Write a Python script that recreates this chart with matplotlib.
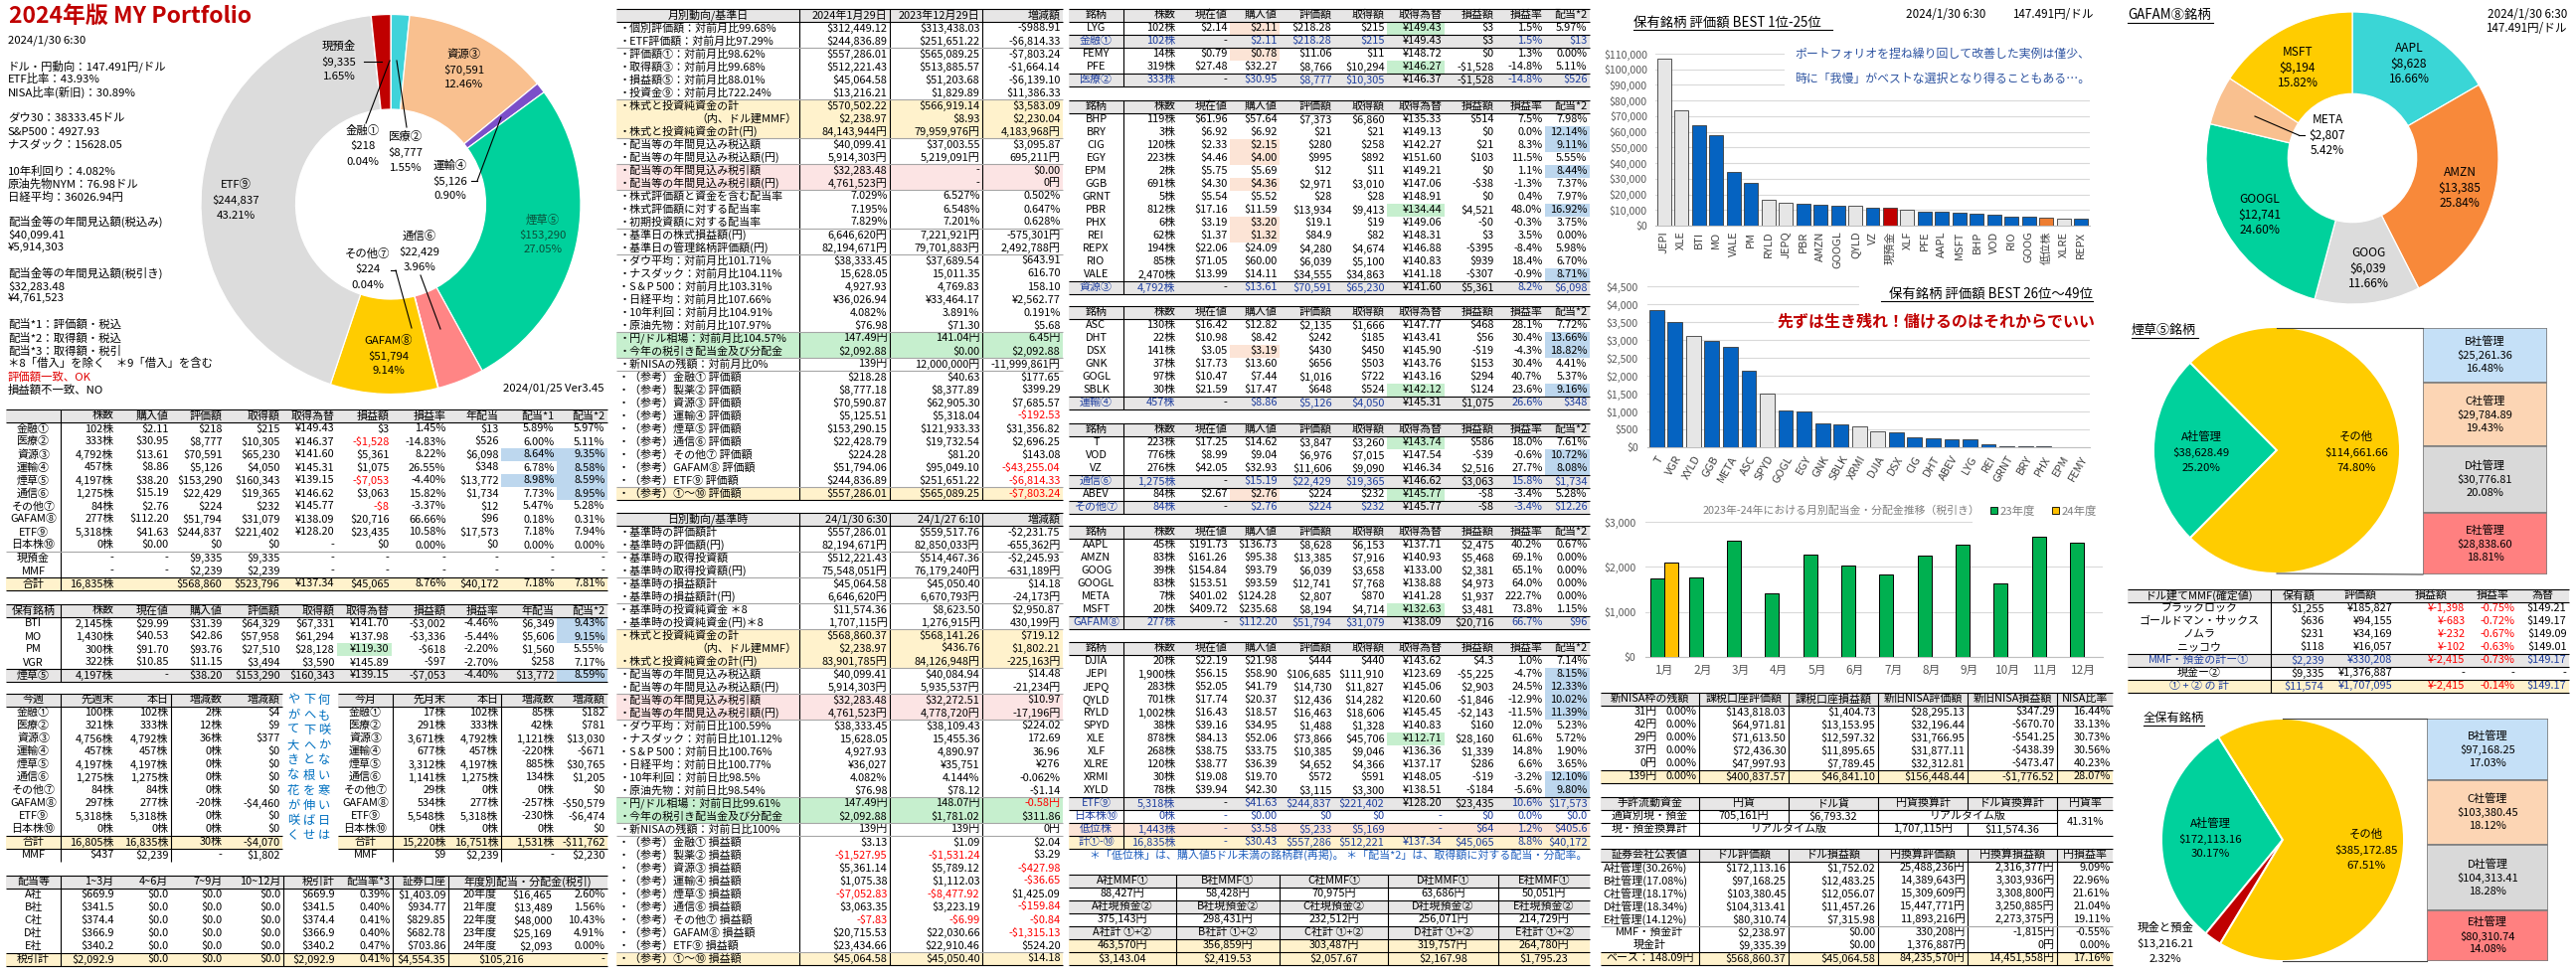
import numpy as np
import matplotlib
matplotlib.use('Agg')
import matplotlib.pyplot as plt
from matplotlib.patches import Rectangle

plt.rcParams['font.family'] = ['Noto Sans CJK JP', 'DejaVu Sans']
plt.rcParams['axes.unicode_minus'] = False

# ===================== DATA =====================
title_text = '2024年版 MY Portfolio'
info_lines = [
    (41, '2024/1/30 6:30', 'black'),
    (67, 'ドル・円動向：147.491円/ドル', 'black'), (80, 'ETF比率：43.93%', 'black'),
    (93, 'NISA比率(新旧)：30.89%', 'black'),
    (119, 'ダウ30：38333.45ドル', 'black'), (133, 'S&P500：4927.93', 'black'),
    (146, 'ナスダック：15628.05', 'black'),
    (172, '10年利回り：4.082%', 'black'), (185, '原油先物NYM：76.98ドル', 'black'),
    (198, '日経平均：36026.94円', 'black'),
    (223, '配当金等の年間見込額(税込み)', 'black'), (236, '$40,099.41', 'black'),
    (249, '¥5,914,303', 'black'),
    (275, '配当金等の年間見込額(税引き)', 'black'), (288, '$32,283.48', 'black'),
    (300, '¥4,761,523', 'black'),
    (326, '配当*1：評価額・税込', 'black'), (340, '配当*2：取得額・税込', 'black'),
    (353, '配当*3：取得額・税引', 'black'),
    (366, '＊8「借入」を除く　＊9「借入」を含む', 'black'),
    (379, '評価額一致、OK', '#E00000'), (392, '損益額不一致、NO', 'black'),
]

donut_labels = ['金融①', '医療②', '資源③', '運輸④', '煙草⑤', '通信⑥', 'その他⑦', 'GAFAM⑧', 'ETF⑨', '日本株⑩', '現預金']
donut_values = [218, 8777, 70591, 5126, 153290, 22429, 224, 51794, 244837, 0, 9335]
donut_colors = ['#4472C4', '#3FD3DA', '#F9C08F', '#7B4FC9', '#00D19C', '#FF8585', '#A9D18E',
                '#FFCC00', '#DCDCDC', '#FFFFFF', '#C00000']

T1 = [
    ['', '株数', '購入値', '評価額', '取得額', '取得為替', '損益額', '損益率', '年配当', '配当*1', '配当*2'],
    ['金融①', '102株', '$2.11', '$218', '$215', '¥149.43', '$3', '1.45%', '$13', '5.89%', '5.97%'],
    ['医療②', '333株', '$30.95', '$8,777', '$10,305', '¥146.37', '-$1,528', '-14.83%', '$526', '6.00%', '5.11%'],
    ['資源③', '4,792株', '$13.61', '$70,591', '$65,230', '¥141.60', '$5,361', '8.22%', '$6,098', '8.64%', '9.35%'],
    ['運輸④', '457株', '$8.86', '$5,126', '$4,050', '¥145.31', '$1,075', '26.55%', '$348', '6.78%', '8.58%'],
    ['煙草⑤', '4,197株', '$38.20', '$153,290', '$160,343', '¥139.15', '-$7,053', '-4.40%', '$13,772', '8.98%', '8.59%'],
    ['通信⑥', '1,275株', '$15.19', '$22,429', '$19,365', '¥146.62', '$3,063', '15.82%', '$1,734', '7.73%', '8.95%'],
    ['その他⑦', '84株', '$2.76', '$224', '$232', '¥145.77', '-$8', '-3.37%', '$12', '5.47%', '5.28%'],
    ['GAFAM⑧', '277株', '$112.20', '$51,794', '$31,079', '¥138.09', '$20,716', '66.66%', '$96', '0.18%', '0.31%'],
    ['ETF⑨', '5,318株', '$41.63', '$244,837', '$221,402', '¥128.20', '$23,435', '10.58%', '$17,573', '7.18%', '7.94%'],
    ['日本株⑩', '0株', '$0.00', '$0', '$0', '-', '$0', '0.00%', '$0', '0.00%', '0.00%'],
    ['現預金', '-', '-', '$9,335', '$9,335', '-', '-', '-', '-', '-', '-'],
    ['MMF', '-', '-', '$2,239', '$2,239', '-', '-', '-', '-', '-', '-'],
    ['合計', '16,835株', '', '$568,860', '$523,796', '¥137.34', '$45,065', '8.76%', '$40,172', '7.18%', '7.81%'],
]
T2 = [
    ['保有銘柄', '株数', '現在値', '購入値', '評価額', '取得額', '取得為替', '損益額', '損益率', '年配当', '配当*2'],
    ['BTI', '2,145株', '$29.99', '$31.39', '$64,329', '$67,331', '¥141.70', '-$3,002', '-4.46%', '$6,349', '9.43%'],
    ['MO', '1,430株', '$40.53', '$42.86', '$57,958', '$61,294', '¥137.98', '-$3,336', '-5.44%', '$5,606', '9.15%'],
    ['PM', '300株', '$91.70', '$93.76', '$27,510', '$28,128', '¥119.30', '-$618', '-2.20%', '$1,560', '5.55%'],
    ['VGR', '322株', '$10.85', '$11.15', '$3,494', '$3,590', '¥145.89', '-$97', '-2.70%', '$258', '7.17%'],
    ['煙草⑤', '4,197株', '-', '$38.20', '$153,290', '$160,343', '¥139.15', '-$7,053', '-4.40%', '$13,772', '8.59%'],
]
T3 = [
    ['今週', '先週末', '本日', '増減数', '増減額'],
    ['金融①', '100株', '102株', '2株', '$4'], ['医療②', '321株', '333株', '12株', '$9'],
    ['資源③', '4,756株', '4,792株', '36株', '$377'], ['運輸④', '457株', '457株', '0株', '$0'],
    ['煙草⑤', '4,197株', '4,197株', '0株', '$0'], ['通信⑥', '1,275株', '1,275株', '0株', '$0'],
    ['その他⑦', '84株', '84株', '0株', '$0'], ['GAFAM⑧', '297株', '277株', '-20株', '-$4,460'],
    ['ETF⑨', '5,318株', '5,318株', '0株', '$0'], ['日本株⑩', '0株', '0株', '0株', '$0'],
    ['合計', '16,805株', '16,835株', '30株', '-$4,070'], ['MMF', '$437', '$2,239', '-', '$1,802'],
]
T4 = [
    ['今月', '先月末', '本日', '増減数', '増減額'],
    ['金融①', '17株', '102株', '85株', '$182'], ['医療②', '291株', '333株', '42株', '$781'],
    ['資源③', '3,671株', '4,792株', '1,121株', '$13,030'], ['運輸④', '677株', '457株', '-220株', '-$671'],
    ['煙草⑤', '3,312株', '4,197株', '885株', '$30,765'], ['通信⑥', '1,141株', '1,275株', '134株', '$1,205'],
    ['その他⑦', '29株', '0株', '0株', '$0'], ['GAFAM⑧', '534株', '277株', '-257株', '-$50,579'],
    ['ETF⑨', '5,548株', '5,318株', '-230株', '-$6,474'], ['日本株⑩', '0株', '0株', '0株', '$0'],
    ['合計', '15,220株', '16,751株', '1,531株', '-$11,762'], ['MMF', '$9', '$2,239', '-', '$2,230'],
]
poem_cols = ['何も咲かない寒い日は', '下へ下へと根を伸ばせ', 'やがて大きな花が咲く']
T5 = [
    ['配当等', '1~3月', '4~6月', '7~9月', '10~12月', '税引計', '配当率*3', '証券口座', ('年度別配当・分配金(税引)', 3), None, None],
    ['A社', '$669.9', '$0.0', '$0.0', '$0.0', '$669.9', '0.39%', '$1,403.09', '20年度', '$16,465', '2.60%'],
    ['B社', '$341.5', '$0.0', '$0.0', '$0.0', '$341.5', '0.40%', '$934.77', '21年度', '$13,489', '1.56%'],
    ['C社', '$374.4', '$0.0', '$0.0', '$0.0', '$374.4', '0.41%', '$829.85', '22年度', '$48,000', '10.43%'],
    ['D社', '$366.9', '$0.0', '$0.0', '$0.0', '$366.9', '0.40%', '$682.78', '23年度', '$25,169', '4.91%'],
    ['E社', '$340.2', '$0.0', '$0.0', '$0.0', '$340.2', '0.47%', '$703.86', '24年度', '$2,093', '0.00%'],
    ['税引計', '$2,092.9', '$0.0', '$0.0', '$0.0', '$2,092.9', '0.41%', '$4,554.35', ('$105,216', 2), None, '-'],
]

MID1 = [
    ['月別動向/基準日', '2024年1月29日', '2023年12月29日', '増減額'],
    ['・個別評価額：対前月比99.68%', '$312,449.12', '$313,438.03', '-$988.91'],
    ['・ETF評価額：対前月比97.29%', '$244,836.89', '$251,651.22', '-$6,814.33'],
    ['・評価額①：対前月比98.62%', '$557,286.01', '$565,089.25', '-$7,803.24'],
    ['・取得額③：対前月比99.68%', '$512,221.43', '$513,885.57', '-$1,664.14'],
    ['・損益額⑤：対前月比88.01%', '$45,064.58', '$51,203.68', '-$6,139.10'],
    ['・投資金⑨：対前月比722.24%', '$13,216.21', '$1,829.89', '$11,386.33'],
    ['・株式と投資純資金の計', '$570,502.22', '$566,919.14', '$3,583.09'],
    ['（内、ドル建MMF）', '$2,238.97', '$8.93', '$2,230.04'],
    ['・株式と投資純資金の計(円)', '84,143,944円', '79,959,976円', '4,183,968円'],
    ['・配当等の年間見込み税込額', '$40,099.41', '$37,003.55', '$3,095.87'],
    ['・配当等の年間見込み税込額(円)', '5,914,303円', '5,219,091円', '695,211円'],
    ['・配当等の年間見込み税引額', '$32,283.48', '-', '$0.00'],
    ['・配当等の年間見込み税引額(円)', '4,761,523円', '-', '0円'],
    ['・株式評価額と資金を含む配当率', '7.029%', '6.527%', '0.502%'],
    ['・株式評価額に対する配当率', '7.195%', '6.548%', '0.647%'],
    ['・初期投資額に対する配当率', '7.829%', '7.201%', '0.628%'],
    ['・基準日の株式損益額(円)', '6,646,620円', '7,221,921円', '-575,301円'],
    ['・基準日の管理銘柄評価額(円)', '82,194,671円', '79,701,883円', '2,492,788円'],
    ['・ダウ平均：対前月比101.71%', '$38,333.45', '$37,689.54', '$643.91'],
    ['・ナスダック：対前月比104.11%', '15,628.05', '15,011.35', '616.70'],
    ['・S＆P 500：対前月比103.31%', '4,927.93', '4,769.83', '158.10'],
    ['・日経平均：対前月比107.66%', '¥36,026.94', '¥33,464.17', '¥2,562.77'],
    ['・10年利回：対前月比104.91%', '4.082%', '3.891%', '0.191%'],
    ['・原油先物：対前月比107.97%', '$76.98', '$71.30', '$5.68'],
    ['・円/ドル相場：対前月比104.57%', '147.49円', '141.04円', '6.45円'],
    ['・今年の税引き配当金及び分配金', '$2,092.88', '$0.00', '$2,092.88'],
    ['・新NISAの残額：対前月比0%', '139円', '12,000,000円', '-11,999,861円'],
    ['・（参考）金融① 評価額', '$218.28', '$40.63', '$177.65'],
    ['・（参考）製薬② 評価額', '$8,777.18', '$8,377.89', '$399.29'],
    ['・（参考）資源③ 評価額', '$70,590.87', '$62,905.30', '$7,685.57'],
    ['・（参考）運輸④ 評価額', '$5,125.51', '$5,318.04', '-$192.53'],
    ['・（参考）煙草⑤ 評価額', '$153,290.15', '$121,933.33', '$31,356.82'],
    ['・（参考）通信⑥ 評価額', '$22,428.79', '$19,732.54', '$2,696.25'],
    ['・（参考）その他⑦ 評価額', '$224.28', '$81.20', '$143.08'],
    ['・（参考）GAFAM⑧ 評価額', '$51,794.06', '$95,049.10', '-$43,255.04'],
    ['・（参考）ETF⑨ 評価額', '$244,836.89', '$251,651.22', '-$6,814.33'],
    ['・（参考）①～⑩ 評価額', '$557,286.01', '$565,089.25', '-$7,803.24'],
]
MID2 = [
    ['日別動向/基準時', '24/1/30 6:30', '24/1/27 6:10', '増減額'],
    ['・基準時の評価額計', '$557,286.01', '$559,517.76', '-$2,231.75'],
    ['・基準時の評価額(円)', '82,194,671円', '82,850,033円', '-655,362円'],
    ['・基準時の取得投資額', '$512,221.43', '$514,467.36', '-$2,245.93'],
    ['・基準時の取得投資額(円)', '75,548,051円', '76,179,240円', '-631,189円'],
    ['・基準時の損益額計', '$45,064.58', '$45,050.40', '$14.18'],
    ['・基準時の損益額計(円)', '6,646,620円', '6,670,793円', '-24,173円'],
    ['・基準時の投資純資金 ＊8', '$11,574.36', '$8,623.50', '$2,950.87'],
    ['・基準時の投資純資金(円)＊8', '1,707,115円', '1,276,915円', '430,199円'],
    ['・株式と投資純資金の計', '$568,860.37', '$568,141.26', '$719.12'],
    ['（内、ドル建MMF）', '$2,238.97', '$436.76', '$1,802.21'],
    ['・株式と投資純資金の計(円)', '83,901,785円', '84,126,948円', '-225,163円'],
    ['・配当等の年間見込み税込額', '$40,099.41', '$40,084.94', '$14.48'],
    ['・配当等の年間見込み税込額(円)', '5,914,303円', '5,935,537円', '-21,234円'],
    ['・配当等の年間見込み税引額', '$32,283.48', '$32,272.51', '$10.97'],
    ['・配当等の年間見込み税引額(円)', '4,761,523円', '4,778,720円', '-17,196円'],
    ['・ダウ平均：対前日比100.59%', '$38,333.45', '$38,109.43', '$224.02'],
    ['・ナスダック：対前日比101.12%', '15,628.05', '15,455.36', '172.69'],
    ['・S＆P 500：対前日比100.76%', '4,927.93', '4,890.97', '36.96'],
    ['・日経平均：対前日比100.77%', '¥36,027', '¥35,751', '¥276'],
    ['・10年利回：対前日比98.5%', '4.082%', '4.144%', '-0.062%'],
    ['・原油先物：対前日比98.54%', '$76.98', '$78.12', '-$1.14'],
    ['・円/ドル相場：対前日比99.61%', '147.49円', '148.07円', '-0.58円'],
    ['・今年の税引き配当金及び分配金', '$2,092.88', '$1,781.02', '$311.86'],
    ['・新NISAの残額：対前日比100%', '139円', '139円', '0円'],
    ['・（参考）金融① 損益額', '$3.13', '$1.09', '$2.04'],
    ['・（参考）製薬② 損益額', '-$1,527.95', '-$1,531.24', '$3.29'],
    ['・（参考）資源③ 損益額', '$5,361.14', '$5,789.12', '-$427.98'],
    ['・（参考）運輸④ 損益額', '$1,075.38', '$1,112.03', '-$36.65'],
    ['・（参考）煙草⑤ 損益額', '-$7,052.83', '-$8,477.92', '$1,425.09'],
    ['・（参考）通信⑥ 損益額', '$3,063.35', '$3,223.19', '-$159.84'],
    ['・（参考）その他⑦ 損益額', '-$7.83', '-$6.99', '-$0.84'],
    ['・（参考）GAFAM⑧ 損益額', '$20,715.53', '$22,030.66', '-$1,315.13'],
    ['・（参考）ETF⑨ 損益額', '$23,434.66', '$22,910.46', '$524.20'],
    ['・（参考）①～⑩ 損益額', '$45,064.58', '$45,050.40', '$14.18'],
]

STOCK_HEADER = ['銘柄', '株数', '現在値', '購入値', '評価額', '取得額', '取得為替', '損益額', '損益率', '配当*2']
SG_A = [
    ['LYG', '102株', '$2.14', '$2.11', '$218.28', '$215', '¥149.43', '$3', '1.5%', '5.97%'],
    ['金融①', '102株', '-', '$2.11', '$218.28', '$215', '¥149.43', '$3', '1.5%', '$13'],
    ['FEMY', '14株', '$0.79', '$0.78', '$11.06', '$11', '¥148.72', '$0', '1.3%', '0.00%'],
    ['PFE', '319株', '$27.48', '$32.27', '$8,766', '$10,294', '¥146.27', '-$1,528', '-14.8%', '5.11%'],
    ['医療②', '333株', '-', '$30.95', '$8,777', '$10,305', '¥146.37', '-$1,528', '-14.8%', '$526'],
]
SG_B = [
    ['BHP', '119株', '$61.96', '$57.64', '$7,373', '$6,860', '¥135.33', '$514', '7.5%', '7.98%'],
    ['BRY', '3株', '$6.92', '$6.92', '$21', '$21', '¥149.13', '$0', '0.0%', '12.14%'],
    ['CIG', '120株', '$2.33', '$2.15', '$280', '$258', '¥142.27', '$21', '8.3%', '9.11%'],
    ['EGY', '223株', '$4.46', '$4.00', '$995', '$892', '¥151.60', '$103', '11.5%', '5.55%'],
    ['EPM', '2株', '$5.75', '$5.69', '$12', '$11', '¥149.21', '$0', '1.1%', '8.44%'],
    ['GGB', '691株', '$4.30', '$4.36', '$2,971', '$3,010', '¥147.06', '-$38', '-1.3%', '7.37%'],
    ['GRNT', '5株', '$5.54', '$5.52', '$28', '$28', '¥148.91', '$0', '0.4%', '7.97%'],
    ['PBR', '812株', '$17.16', '$11.59', '$13,934', '$9,413', '¥134.44', '$4,521', '48.0%', '16.92%'],
    ['PHX', '6株', '$3.19', '$3.20', '$19.1', '$19', '¥149.06', '-$0', '-0.3%', '3.75%'],
    ['REI', '62株', '$1.37', '$1.32', '$84.9', '$82', '¥148.31', '$3', '3.5%', '0.00%'],
    ['REPX', '194株', '$22.06', '$24.09', '$4,280', '$4,674', '¥146.88', '-$395', '-8.4%', '5.98%'],
    ['RIO', '85株', '$71.05', '$60.00', '$6,039', '$5,100', '¥140.83', '$939', '18.4%', '6.70%'],
    ['VALE', '2,470株', '$13.99', '$14.11', '$34,555', '$34,863', '¥141.18', '-$307', '-0.9%', '8.71%'],
    ['資源③', '4,792株', '-', '$13.61', '$70,591', '$65,230', '¥141.60', '$5,361', '8.2%', '$6,098'],
]
SG_C = [
    ['ASC', '130株', '$16.42', '$12.82', '$2,135', '$1,666', '¥147.77', '$468', '28.1%', '7.72%'],
    ['DHT', '22株', '$10.98', '$8.42', '$242', '$185', '¥143.41', '$56', '30.4%', '13.66%'],
    ['DSX', '141株', '$3.05', '$3.19', '$430', '$450', '¥145.90', '-$19', '-4.3%', '18.82%'],
    ['GNK', '37株', '$17.73', '$13.60', '$656', '$503', '¥143.76', '$153', '30.4%', '4.41%'],
    ['GOGL', '97株', '$10.47', '$7.44', '$1,016', '$722', '¥143.16', '$294', '40.7%', '5.37%'],
    ['SBLK', '30株', '$21.59', '$17.47', '$648', '$524', '¥142.12', '$124', '23.6%', '9.16%'],
    ['運輸④', '457株', '-', '$8.86', '$5,126', '$4,050', '¥145.31', '$1,075', '26.6%', '$348'],
]
SG_D = [
    ['T', '223株', '$17.25', '$14.62', '$3,847', '$3,260', '¥143.74', '$586', '18.0%', '7.61%'],
    ['VOD', '776株', '$8.99', '$9.04', '$6,976', '$7,015', '¥147.54', '-$39', '-0.6%', '10.72%'],
    ['VZ', '276株', '$42.05', '$32.93', '$11,606', '$9,090', '¥146.34', '$2,516', '27.7%', '8.08%'],
    ['通信⑥', '1,275株', '-', '$15.19', '$22,429', '$19,365', '¥146.62', '$3,063', '15.8%', '$1,734'],
    ['ABEV', '84株', '$2.67', '$2.76', '$224', '$232', '¥145.77', '-$8', '-3.4%', '5.28%'],
    ['その他⑦', '84株', '-', '$2.76', '$224', '$232', '¥145.77', '-$8', '-3.4%', '$12.26'],
]
SG_E = [
    ['AAPL', '45株', '$191.73', '$136.73', '$8,628', '$6,153', '¥137.71', '$2,475', '40.2%', '0.67%'],
    ['AMZN', '83株', '$161.26', '$95.38', '$13,385', '$7,916', '¥140.93', '$5,468', '69.1%', '0.00%'],
    ['GOOG', '39株', '$154.84', '$93.79', '$6,039', '$3,658', '¥133.00', '$2,381', '65.1%', '0.00%'],
    ['GOOGL', '83株', '$153.51', '$93.59', '$12,741', '$7,768', '¥138.88', '$4,973', '64.0%', '0.00%'],
    ['META', '7株', '$401.02', '$124.28', '$2,807', '$870', '¥141.28', '$1,937', '222.7%', '0.00%'],
    ['MSFT', '20株', '$409.72', '$235.68', '$8,194', '$4,714', '¥132.63', '$3,481', '73.8%', '1.15%'],
    ['GAFAM⑧', '277株', '-', '$112.20', '$51,794', '$31,079', '¥138.09', '$20,716', '66.7%', '$96'],
]
SG_F = [
    ['DJIA', '20株', '$22.19', '$21.98', '$444', '$440', '¥143.62', '$4.3', '1.0%', '7.14%'],
    ['JEPI', '1,900株', '$56.15', '$58.90', '$106,685', '$111,910', '¥123.69', '-$5,225', '-4.7%', '8.15%'],
    ['JEPQ', '283株', '$52.05', '$41.79', '$14,730', '$11,827', '¥145.06', '$2,903', '24.5%', '12.33%'],
    ['QYLD', '701株', '$17.74', '$20.37', '$12,436', '$14,282', '¥120.60', '-$1,846', '-12.9%', '10.02%'],
    ['RYLD', '1,002株', '$16.43', '$18.57', '$16,463', '$18,606', '¥145.45', '-$2,143', '-11.5%', '11.39%'],
    ['SPYD', '38株', '$39.16', '$34.95', '$1,488', '$1,328', '¥140.83', '$160', '12.0%', '5.23%'],
    ['XLE', '878株', '$84.13', '$52.06', '$73,866', '$45,706', '¥112.71', '$28,160', '61.6%', '5.72%'],
    ['XLF', '268株', '$38.75', '$33.75', '$10,385', '$9,046', '¥136.36', '$1,339', '14.8%', '1.90%'],
    ['XLRE', '120株', '$38.77', '$36.39', '$4,652', '$4,366', '¥137.17', '$286', '6.6%', '3.65%'],
    ['XRMI', '30株', '$19.08', '$19.70', '$572', '$591', '¥148.05', '-$19', '-3.2%', '12.10%'],
    ['XYLD', '78株', '$39.94', '$42.30', '$3,115', '$3,300', '¥138.51', '-$184', '-5.6%', '9.80%'],
    ['ETF⑨', '5,318株', '-', '$41.63', '$244,837', '$221,402', '¥128.20', '$23,435', '10.6%', '$17,573'],
    ['日本株⑩', '0株', '-', '$0.00', '$0', '$0', '-', '$0', '0.0%', '$0.0'],
    ['低位株', '1,443株', '-', '$3.58', '$5,233', '$5,169', '-', '$64', '1.2%', '$405.6'],
    ['計①-⑩', '16,835株', '-', '$30.43', '$557,286', '$512,221', '¥137.34', '$45,065', '8.8%', '$40,172'],
]
low_price = {'LYG', 'FEMY', 'CIG', 'EGY', 'GGB', 'PHX', 'REI', 'DSX', 'ABEV'}
fx_hilite = {'LYG', 'PFE', 'PBR', 'SBLK', 'T', 'ABEV', 'MSFT', 'XLE'}
yield_hilite = {'BRY', 'CIG', 'EPM', 'PBR', 'VALE', 'DHT', 'DSX', 'SBLK', 'VOD', 'VZ',
                'JEPI', 'JEPQ', 'QYLD', 'RYLD', 'XRMI', 'XYLD'}
stock_note = '＊「低位株」は、購入値5ドル未満の銘柄群(再掲)。 ＊「配当*2」は、取得額に対する配当・分配率。'

MMF_CO = [
    ['A社MMF①', 'B社MMF①', 'C社MMF①', 'D社MMF①', 'E社MMF①'],
    ['88,427円', '58,428円', '70,975円', '63,686円', '50,051円'],
    ['A社現預金②', 'B社現預金②', 'C社現預金②', 'D社現預金②', 'E社現預金②'],
    ['375,143円', '298,431円', '232,512円', '256,071円', '214,729円'],
    ['A社計 ①+②', 'B社計 ①+②', 'C社計 ①+②', 'D社計 ①+②', 'E社計 ①+②'],
    ['463,570円', '356,859円', '303,487円', '319,757円', '264,780円'],
    ['$3,143.04', '$2,419.53', '$2,057.67', '$2,167.98', '$1,795.23'],
]

b1_names = ['JEPI', 'XLE', 'BTI', 'MO', 'VALE', 'PM', 'RYLD', 'JEPQ', 'PBR', 'AMZN', 'GOOGL', 'QYLD', 'VZ',
            '現預金', 'XLF', 'PFE', 'AAPL', 'MSFT', 'BHP', 'VOD', 'RIO', 'GOOG', '低位株', 'XLRE', 'REPX']
b1_vals = [106685, 73866, 64329, 57958, 34555, 27510, 16463, 14730, 13934, 13385, 12741, 12436, 11606,
           11574, 10385, 8766, 8628, 8194, 7373, 6976, 6039, 6039, 5233, 4652, 4280]
b1_kind = ['E', 'E', 'S', 'S', 'S', 'S', 'E', 'E', 'S', 'S', 'S', 'E', 'S',
           'C', 'E', 'S', 'S', 'S', 'S', 'S', 'S', 'S', 'L', 'E', 'S']
b2_names = ['T', 'VGR', 'XYLD', 'GGB', 'META', 'ASC', 'SPYD', 'GOGL', 'EGY', 'GNK', 'SBLK', 'XRMI',
            'DJIA', 'DSX', 'CIG', 'DHT', 'ABEV', 'LYG', 'REI', 'GRNT', 'BRY', 'PHX', 'EPM', 'FEMY']
b2_vals = [3847, 3494, 3115, 2971, 2807, 2135, 1488, 1016, 995, 656, 648, 572,
           444, 430, 280, 242, 224, 218, 85, 28, 21, 19, 12, 11]
b2_kind = ['S', 'S', 'E', 'S', 'S', 'S', 'E', 'S', 'S', 'S', 'S', 'E',
           'E', 'S', 'S', 'S', 'S', 'S', 'S', 'S', 'S', 'S', 'S', 'S']

months = ['1月', '2月', '3月', '4月', '5月', '6月', '7月', '8月', '9月', '10月', '11月', '12月']
div23 = [1735, 1757, 2574, 1404, 2265, 2022, 1824, 2243, 2485, 1625, 2662, 2529]
div24 = [2093, 0, 0, 0, 0, 0, 0, 0, 0, 0, 0, 0]

NISA = [
    [('新NISA枠の残額', 2), None, '課税口座評価額', '課税口座損益額', '新旧NISA評価額', '新旧NISA損益額', 'NISA比率'],
    ['31円', '0.00%', '$143,818.03', '$1,404.73', '$28,295.13', '$347.29', '16.44%'],
    ['42円', '0.00%', '$64,971.81', '$13,153.95', '$32,196.44', '-$670.70', '33.13%'],
    ['29円', '0.00%', '$71,613.50', '$12,597.32', '$31,766.95', '-$541.25', '30.73%'],
    ['37円', '0.00%', '$72,436.30', '$11,895.65', '$31,877.11', '-$438.39', '30.56%'],
    ['0円', '0.00%', '$47,997.93', '$7,789.45', '$32,312.81', '-$473.47', '40.23%'],
    ['139円', '0.00%', '$400,837.57', '$46,841.10', '$156,448.44', '-$1,776.52', '28.07%'],
]
CASH = [
    ['手許流動資金', '円貨', 'ドル貨', '円貨換算計', 'ドル貨換算計', '円貨率'],
    ['通貨別現・預金', '705,161円', '$6,793.32', ('リアルタイム版', 2), None, ''],
    ['現・預金換算計', ('リアルタイム版', 2), None, '1,707,115円', '$11,574.36', ''],
]
cash_rate = '41.31%'
BROKER = [
    ['証券会社公表値', 'ドル評価額', 'ドル損益額', '円換算評価額', '円換算損益額', '円損益率'],
    ['A社管理(30.26%)', '$172,113.16', '$1,752.02', '25,488,236円', '2,316,377円', '9.09%'],
    ['B社管理(17.08%)', '$97,168.25', '$12,483.25', '14,389,643円', '3,303,936円', '22.96%'],
    ['C社管理(18.17%)', '$103,380.45', '$12,056.07', '15,309,609円', '3,308,800円', '21.61%'],
    ['D社管理(18.34%)', '$104,313.41', '$11,457.26', '15,447,771円', '3,250,885円', '21.04%'],
    ['E社管理(14.12%)', '$80,310.74', '$7,315.98', '11,893,216円', '2,273,375円', '19.11%'],
    ['MMF・預金計', '$2,238.97', '$0.00', '330,208円', '-1,815円', '-0.55%'],
    ['現金計', '$9,335.39', '$0.00', '1,376,887円', '0円', '0.00%'],
    ['ベース：148.09円', '$568,860.37', '$45,064.58', '84,235,570円', '14,451,558円', '17.16%'],
]

gafam_labels = ['AAPL', 'AMZN', 'GOOG', 'GOOGL', 'META', 'MSFT']
gafam_values = [8628, 13385, 6039, 12741, 2807, 8194]
gafam_colors = ['#3AD6D6', '#F8893A', '#DCDCDC', '#00D19C', '#F9C08F', '#FFCC00']

tob_pie_labels = ['A社管理', 'その他']
tob_pie_values = [38628.49, 114661.66]
tob_bar_labels = ['B社管理', 'C社管理', 'D社管理', 'E社管理']
tob_bar_values = [25261.36, 29784.89, 30776.81, 28838.60]

all_pie_labels = ['A社管理', '現金と預金', 'その他']
all_pie_values = [172113.16, 13216.21, 385172.85]
all_bar_labels = ['B社管理', 'C社管理', 'D社管理', 'E社管理']
all_bar_values = [97168.25, 103380.45, 104313.41, 80310.74]

MMF_R = [
    ['ドル建てMMF(確定値)', '保有額', '評価額', '損益額', '損益率', '為替'],
    ['ブラックロック', '$1,255', '¥185,827', '¥-1,398', '-0.75%', '$149.21'],
    ['ゴールドマン・サックス', '$636', '¥94,155', '¥-683', '-0.72%', '$149.17'],
    ['ノムラ', '$231', '¥34,169', '¥-232', '-0.67%', '$149.09'],
    ['ニッコウ', '$118', '¥16,057', '¥-102', '-0.63%', '$149.01'],
    ['MMF・預金の計ー①', '$2,239', '¥330,208', '¥-2,415', '-0.73%', '$149.17'],
    ['現金ー②', '$9,335', '¥1,376,887', '-', '-', '-'],
    ['① + ② の 計', '$11,574', '¥1,707,095', '¥-2,415', '-0.14%', '$149.17'],
]

# ===================== STYLE / HELPERS =====================
W, H = 2591, 981
RED = '#FF0000'
BLUE = '#1F3F9F'
HB = '#BDD7EE'
GR = '#C6EFCE'
PE = '#FCE4D6'
FILL = {'h': '#E7E6E6', 's': '#E7E6E6', 'sb': '#E7E6E6', 'y': '#FFF2CC', 'yb': '#FFF2CC',
        'p': '#FCE4E4', 'g': '#C6EFCE', 'ob': '#FCE4D6'}
TXTC = {'sb': BLUE, 'yb': BLUE, 'ob': BLUE, 'wb': BLUE}
PAD = 2.5
FS = 7.9

fig = plt.figure(figsize=(W / 100, H / 100), dpi=100)
bg = fig.add_axes([0, 0, 1, 1], label='bg')
bg.set_xlim(0, W)
bg.set_ylim(H, 0)
bg.axis('off')


def px_axes(x0, y0, x1, y1, label=None):
    return fig.add_axes([x0 / W, 1 - y1 / H, (x1 - x0) / W, (y1 - y0) / H], label=label or f'{x0}-{y0}')


def hl(ax, x0, x1, y, color='black', lw=0.8):
    ax.plot([x0, x1], [y, y], color=color, lw=lw, zorder=4, solid_capstyle='butt')


def vline(ax, x, y0, y1, color='black', lw=0.8):
    ax.plot([x, x], [y0, y1], color=color, lw=lw, zorder=4, solid_capstyle='butt')


def table(bounds, y0, rows, styles, align, rh=13, fs=FS, bgc=None, fgc=None, hal=None,
          vl=(), black=(), gray=(), hdr_align=None):
    bgc = bgc or {}
    fgc = fgc or {}
    hal = hal or {}
    x0, x1 = bounds[0], bounds[-1]
    for r, row in enumerate(rows):
        st = styles[r]
        yt = y0 + r * rh
        yc = yt + rh / 2
        if st in FILL:
            bg.add_patch(Rectangle((x0, yt), x1 - x0, rh, fc=FILL[st], ec='none', zorder=1))
        for c in range(len(row)):
            if (r, c) in bgc:
                bg.add_patch(Rectangle((bounds[c], yt), bounds[c + 1] - bounds[c], rh,
                                       fc=bgc[(r, c)], ec='none', zorder=1.5))
        for c, cell in enumerate(row):
            if cell is None or cell == '':
                continue
            span = 1
            if isinstance(cell, tuple):
                cell, span = cell
            a = hal.get((r, c))
            if a is None:
                if span > 1:
                    a = 'c'
                elif st == 'h' and hdr_align is not None:
                    a = hdr_align[c]
                else:
                    a = align[c]
            xl, xr = bounds[c], bounds[c + span]
            if a == 'r':
                x, ha = xr - PAD, 'right'
            elif a == 'l':
                x, ha = xl + PAD, 'left'
            else:
                x, ha = (xl + xr) / 2, 'center'
            color = fgc.get((r, c), TXTC.get(st, 'black'))
            bg.text(x, yc, cell, ha=ha, va='center', fontsize=fs, color=color, zorder=3)
    ytop, ybot = y0, y0 + len(rows) * rh
    for v in vl:
        if isinstance(v, tuple):
            i, r0, r1 = v
            vline(bg, bounds[i], y0 + r0 * rh, y0 + r1 * rh)
        else:
            vline(bg, bounds[v], ytop, ybot)
    for i in gray:
        hl(bg, x0, x1, y0 + i * rh, color='#A6A6A6')
    for i in black:
        hl(bg, x0, x1, y0 + i * rh)


def pct(v, tot):
    return f'{v / tot * 100:.2f}%'


# ===================== LEFT: title + info =====================
bg.text(9, 16, title_text, fontsize=16.5, fontweight='bold', color='#C00000', ha='left', va='center')
for y, s, c in info_lines:
    bg.text(8, y, s, fontsize=8.2, color=c, ha='left', va='center')
bg.text(608, 391, '2024/01/25 Ver3.45', fontsize=8.2, ha='right', va='center')

# ----- table 1 -----
b1 = [6, 61, 117, 172, 226, 284, 339, 394, 451, 504, 560, 611]
al1 = ['c'] + ['r'] * 10
st1 = ['h'] + ['n'] * 12 + ['y']
table(b1, 412, T1, st1, al1,
      bgc={(3, 9): HB, (3, 10): HB, (4, 10): HB, (5, 9): HB, (5, 10): HB, (6, 10): HB},
      fgc={(2, 6): RED, (5, 6): RED, (7, 6): RED},
      vl=[1], black=[0, 1, 13, 14], gray=[11])
# ----- table 2 -----
table(b1, 608, T2, ['h', 'n', 'n', 'n', 'n', 's'], al1,
      bgc={(1, 10): HB, (2, 10): HB, (5, 10): HB, (3, 6): GR},
      vl=[1], black=[0, 1, 5, 6])
# ----- table 3 / 4 -----
st34 = ['h'] + ['n'] * 10 + ['y', 'n']
table([6, 61, 117, 172, 226, 284], 697.5, T3, st34, ['c', 'r', 'r', 'r', 'r'],
      vl=[1, 3], black=[0, 1, 11, 12])
table([340, 395, 451, 504, 560, 611], 697.5, T4, st34, ['c', 'r', 'r', 'r', 'r'],
      vl=[1, 3], black=[0, 1, 11, 12])
# poem (vertical text)
for xcol, line in zip([326, 311, 295], poem_cols):
    for k, ch in enumerate(line):
        bg.text(xcol, 704 + k * 15.2, ch, fontsize=8.8, color='#0070C0', ha='center', va='center')
# ----- table 5 -----
b5 = [6, 61, 117, 172, 226, 285, 339, 395, 451, 515, 558, 611]
table(b5, 880.5, T5, ['h', 'n', 'n', 'n', 'n', 'n', 'y'],
      ['c', 'r', 'r', 'r', 'r', 'r', 'r', 'r', 'c', 'r', 'r'],
      vl=[1, 5, 7, 8], black=[0, 1, 6, 7])

# ===================== MIDDLE tables =====================
bm = [620, 804, 895, 988, 1069]
st_m1 = ['h'] + ['n'] * 6 + ['y'] * 3 + ['n'] * 2 + ['p'] * 2 + ['n'] * 11 + ['g'] * 2 + ['n'] * 10 + ['y']
red_m1 = {(31, 3): RED, (35, 3): RED, (36, 3): RED, (37, 3): RED}
table(bm, 9, MID1, st_m1, ['l', 'r', 'r', 'r'], fgc=red_m1, hal={(8, 0): 'r'},
      hdr_align=['c', 'r', 'r', 'r'], vl=[1, 2, 3], black=[0, 1, 38],
      gray=[3, 7, 10, 12, 14, 17, 19, 25, 27, 28, 37])
st_m2 = ['h'] + ['n'] * 8 + ['y'] * 3 + ['n'] * 2 + ['p'] * 2 + ['n'] * 6 + ['g'] * 2 + ['n'] * 10 + ['y']
red_m2 = {(22, 3): RED, (26, 1): RED, (26, 2): RED, (27, 3): RED, (28, 3): RED, (29, 1): RED,
          (29, 2): RED, (30, 3): RED, (31, 1): RED, (31, 2): RED, (31, 3): RED, (32, 3): RED}
table(bm, 516, MID2, st_m2, ['l', 'r', 'r', 'r'], fgc=red_m2, hal={(10, 0): 'r'},
      hdr_align=['c', 'r', 'r', 'r'], vl=[1, 2, 3], black=[0, 1, 35],
      gray=[3, 5, 7, 9, 12, 14, 16, 22, 24, 25, 34])

# ===================== STOCK tables =====================
bs = [1075, 1130, 1185, 1237, 1287, 1342, 1395, 1453, 1505, 1554, 1599]
SUBS = {'金融①', '医療②', '資源③', '運輸④', '煙草⑤', '通信⑥', 'その他⑦', 'GAFAM⑧', 'ETF⑨'}


def stock_group(y0, body):
    rows = [STOCK_HEADER] + body
    styles = ['h']
    bgc, fgc = {}, {}
    black = [0, 1]
    for i, row in enumerate(body, start=1):
        nm = row[0]
        if nm in SUBS:
            styles.append('sb')
            black += [i, i + 1]
            for c in (2, 6, 7):
                fgc[(i, c)] = 'black'
        elif nm == '日本株⑩':
            styles.append('wb')
            black += [i + 1]
        elif nm == '低位株':
            styles.append('ob')
            black += [i + 1]
        elif nm.startswith('計'):
            styles.append('yb')
            black += [i + 1]
        else:
            styles.append('n')
            if nm in low_price:
                bgc[(i, 3)] = PE
            if nm in fx_hilite:
                bgc[(i, 6)] = GR
            if nm in yield_hilite:
                bgc[(i, 9)] = HB
    table(bs, y0, rows, styles, ['c'] + ['r'] * 9, bgc=bgc, fgc=fgc, vl=[1], black=black)


stock_group(8.5, SG_A)
stock_group(100.5, SG_B)
stock_group(307.5, SG_C)
stock_group(425.5, SG_D)
stock_group(528.5, SG_E)
stock_group(645.5, SG_F)
bg.text(1597, 860, stock_note, fontsize=FS, color='#1F5FBF', ha='right', va='center')
table([1075, 1183, 1287, 1396, 1507, 1599], 879.5, MMF_CO, ['h', 'n', 'h', 'n', 'h', 'y', 'y'],
      ['c'] * 5, vl=[1, 2, 3, 4], black=list(range(8)))

# ===================== NISA / cash / broker tables =====================
bn = [1610, 1669, 1709, 1799, 1889, 1979, 2069, 2125]
table(bn, 696.5, NISA, ['h', 'n', 'n', 'n', 'n', 'n', 'y'], ['r'] * 7,
      hdr_align=['c'] * 7, vl=[2, 3, 4, 5, 6], black=[0, 1, 6, 7])
bc = [1610, 1709, 1799, 1889, 1979, 2069, 2125]
table(bc, 801.5, CASH, ['h', 'n', 'n'], ['c'] * 6,
      vl=[1, (2, 0, 2), 3, (4, 0, 1), (4, 2, 3), 5], black=[0, 1, 3])
hl(bg, 1610, 2069, 801.5 + 26)
bg.text((2069 + 2125) / 2, 801.5 + 26, cash_rate, fontsize=FS, ha='center', va='center')
table(bc, 853.5, BROKER, ['h'] + ['n'] * 7 + ['y'], ['l', 'r', 'r', 'r', 'r', 'r'],
      hdr_align=['c'] * 6, hal={(6, 0): 'c', (7, 0): 'c', (8, 0): 'c'},
      vl=[1, 2, 3, 4, 5], black=[0, 1, 8, 9], gray=[6])

# ===================== RIGHT MMF table =====================
br = [2140, 2284, 2340, 2409, 2482, 2532, 2584]
red_r = {}
for r in (1, 2, 3, 4, 5, 7):
    red_r[(r, 3)] = RED
    red_r[(r, 4)] = RED
table(br, 592.5, MMF_R, ['h', 'n', 'n', 'n', 'n', 'sb', 'n', 'yb'], ['c', 'r', 'r', 'r', 'r', 'r'],
      hdr_align=['c'] * 6, fgc=red_r, vl=[1], black=[0, 1, 5, 6, 7, 8])

# ===================== MAIN DONUT =====================
cx, cy, R = 393, 205.5, 191
axd = px_axes(cx - R - 2, cy - R - 2, cx + R + 2, cy + R + 2, 'donut')
axd.pie(donut_values, colors=donut_colors, startangle=90, counterclock=False, radius=1,
        wedgeprops=dict(width=0.5, edgecolor='white', linewidth=0.9))
lim = (R + 2) / R
axd.set_xlim(-lim, lim)
axd.set_ylim(-lim, lim)
axd.set_aspect('auto')

# ===================== BAR CHART 1 =====================
KCOL = {'S': '#0563C1', 'E': '#E6E6E6', 'C': '#C00000', 'L': '#ED7D31'}
ax1 = px_axes(1665, 54, 2102, 227, 'bar1')
x1 = np.arange(len(b1_names))
ax1.bar(x1, b1_vals, width=0.8, color=[KCOL[k] for k in b1_kind], edgecolor='#3A3A3A', linewidth=0.6, zorder=3)
ax1.set_xlim(-0.5, len(b1_names) - 0.5)
ax1.set_ylim(0, 110000)
ax1.set_yticks(np.arange(0, 110001, 10000))
ax1.set_yticklabels([f'${v:,}' for v in range(0, 110001, 10000)])
ax1.set_xticks(x1)
ax1.set_xticklabels(b1_names, rotation=90)

ax2 = px_axes(1657, 288, 2102, 450, 'bar2')
x2 = np.arange(len(b2_names))
ax2.bar(x2, b2_vals, width=0.8, color=[KCOL[k] for k in b2_kind], edgecolor='#3A3A3A', linewidth=0.6, zorder=3)
ax2.set_xlim(-0.5, len(b2_names) - 0.5)
ax2.set_ylim(0, 4500)
ax2.set_yticks(np.arange(0, 4501, 500))
ax2.set_yticklabels([f'${v:,}' for v in range(0, 4501, 500)])
ax2.set_xticks(x2)
ax2.set_xticklabels(b2_names, rotation=60, ha='right', rotation_mode='anchor')

ax3 = px_axes(1655, 525, 2115, 661, 'bar3')
x3 = np.arange(12)
bw = 0.36
ax3.bar(x3 - bw / 2, div23, width=bw, color='#00B050', edgecolor='black', linewidth=0.7, zorder=3)
ax3.bar(x3 + bw / 2, div24, width=bw, color='#FFC000', edgecolor='black', linewidth=0.7, zorder=3)
ax3.set_xlim(-0.5, 11.5)
ax3.set_ylim(0, 3000)
ax3.set_yticks([0, 1000, 2000, 3000])
ax3.set_yticklabels([f'${v:,}' for v in [0, 1000, 2000, 3000]])
ax3.set_xticks(x3)
ax3.set_xticklabels(months)

for ax, ypad, xpad in ((ax1, 5.8, 4), (ax2, 6.5, 5), (ax3, 7.0, 5)):
    ax.patch.set_alpha(0)
    ax.yaxis.grid(True, color='#D9D9D9', lw=0.8)
    ax.set_axisbelow(True)
    for s in ('top', 'right', 'left'):
        ax.spines[s].set_visible(False)
    ax.spines['bottom'].set_color('#BFBFBF')
    ax.tick_params(axis='y', length=0, labelsize=7.6, labelcolor='#595959', pad=ypad)
    ax.tick_params(axis='x', length=0, labelsize=8, labelcolor='#404040', pad=xpad)
ax3.tick_params(axis='x', labelsize=8.5, labelcolor='#595959', pad=5)

# ===================== GAFAM DONUT =====================
gx, gy, gR = 2366, 159, 147
axg = px_axes(gx - gR - 2, gy - gR - 2, gx + gR + 2, gy + gR + 2, 'gafam')
axg.pie(gafam_values, colors=gafam_colors, startangle=90, counterclock=False, radius=1,
        wedgeprops=dict(width=0.56, edgecolor='white', linewidth=0.9))
lg = (gR + 2) / gR
axg.set_xlim(-lg, lg)
axg.set_ylim(-lg, lg)
axg.set_aspect('auto')


# ===================== PIE OF BAR =====================
def pie_of_bar(pcx, pcy, pr, pvals, pcols, bbox, bvals, blabels, bcols, start):
    axp = px_axes(pcx - pr - 2, pcy - pr - 2, pcx + pr + 2, pcy + pr + 2, f'pie{pcx}{pcy}')
    axp.pie(pvals, colors=pcols, startangle=start, counterclock=True, radius=1,
            wedgeprops=dict(edgecolor='white', linewidth=1.4))
    lp = (pr + 2) / pr
    axp.set_xlim(-lp, lp)
    axp.set_ylim(-lp, lp)
    axp.set_aspect('auto')
    x0, y0, x1, y1 = bbox
    axb = px_axes(x0, y0, x1, y1, f'bar{x0}{y0}')
    tot = sum(bvals)
    grand = sum(pvals)
    bottom = tot
    for v, lab, col in zip(bvals, blabels, bcols):
        bottom -= v
        axb.bar(0, v, bottom=bottom, width=1.0, color=col, edgecolor='#7F7F7F', linewidth=1.2)
        axb.text(0, bottom + v / 2, f'{lab}\n${v:,.2f}\n{pct(v, grand)}', ha='center', va='center',
                 fontsize=8, linespacing=1.35)
    axb.set_xlim(-0.5, 0.5)
    axb.set_ylim(0, tot)
    axb.axis('off')
    return axp


pie_of_bar(2290, 453, 124, tob_pie_values, ['#00D19C', '#FFCC00'], (2437, 330, 2562, 578),
           tob_bar_values, tob_bar_labels, ['#C5E0F7', '#FCD5B4', '#D9D9D9', '#FF8080'],
           180 - 180 * tob_pie_values[0] / sum(tob_pie_values))
pie_of_bar(2296, 845, 122, all_pie_values, ['#00D19C', '#C00000', '#FFCC00'], (2441, 723, 2563, 967),
           all_bar_values, all_bar_labels, ['#C5E0F7', '#FCD5B4', '#D9D9D9', '#FF8080'], 122)

# ===================== FOREGROUND overlay =====================
fg = fig.add_axes([0, 0, 1, 1], label='fg')
fg.set_xlim(0, W)
fg.set_ylim(H, 0)
fg.axis('off')
fg.patch.set_alpha(0)


def lab3(x, y, lines, fs=8.2, color='black', dy=15.5):
    for k, s in enumerate(lines):
        fg.text(x, y + (k - 1) * dy, s, ha='center', va='center', fontsize=fs, color=color)


dtot = sum(donut_values)
dpos = {'現預金': (341, 62), '資源③': (467, 70), '金融①': (365, 147), '医療②': (408, 153),
        '運輸④': (453, 182), 'ETF⑨': (237, 201), '煙草⑤': (546, 236), '通信⑥': (422, 253),
        'その他⑦': (370, 271), 'GAFAM⑧': (391, 358)}
for lab, val in zip(donut_labels, donut_values):
    if lab in dpos:
        x, y = dpos[lab]
        lab3(x, y, [lab, f'${val:,}', pct(val, dtot)], color='#0B4F3A' if lab == '煙草⑤' else 'black')
for (xa, ya, xb, yb) in [(366, 62, 384, 62), (368, 124, 392, 61), (409, 128, 399, 61),
                         (474, 182, 480, 182), (480, 182, 504, 118), (423, 277, 443, 331),
                         (393, 272, 398, 272), (398, 272, 414, 330)]:
    fg.plot([xa, xb], [ya, yb], color='black', lw=0.8)

gtot = sum(gafam_values)
gpos = {'AAPL': (2423, 64), 'AMZN': (2474, 189), 'GOOG': (2382, 270), 'GOOGL': (2273, 216),
        'META': (2341, 136), 'MSFT': (2311, 68)}
for lab, val in zip(gafam_labels, gafam_values):
    x, y = gpos[lab]
    lab3(x, y, [lab, f'${val:,}', pct(val, gtot)], fs=8.6)
fg.plot([2268, 2312], [117, 136], color='black', lw=0.8)
fg.plot([2312, 2318], [136, 136], color='black', lw=0.8)

ttot = sum(tob_pie_values)
lab3(2214, 455, [tob_pie_labels[0], f'${tob_pie_values[0]:,.2f}', pct(tob_pie_values[0], ttot)])
lab3(2370, 455, [tob_pie_labels[1], f'${tob_pie_values[1]:,.2f}', pct(tob_pie_values[1], ttot)])
fg.plot([2290, 2437], [329.5, 329.5], color='#404040', lw=0.8)
fg.plot([2290, 2437], [577, 578], color='#404040', lw=0.8)
atot = sum(all_pie_values)
lab3(2223, 844, [all_pie_labels[0], f'${all_pie_values[0]:,.2f}', pct(all_pie_values[0], atot)])
lab3(2380, 855, [all_pie_labels[2], f'${all_pie_values[2]:,.2f}', pct(all_pie_values[2], atot)])
lab3(2178, 949, [all_pie_labels[1], f'${all_pie_values[1]:,.2f}', pct(all_pie_values[1], atot)])
fg.plot([2296, 2441], [723, 723], color='#404040', lw=0.8)
fg.plot([2296, 2441], [967, 967], color='#404040', lw=0.8)

# right titles
for (x, y, s, w, fs) in [(2140, 15, 'GAFAM⑧銘柄', 86, 9.6), (2144, 332, '煙草⑤銘柄', 67, 9.4),
                         (2156, 722, '全保有銘柄', 61, 8.8)]:
    fg.text(x, y, s, fontsize=fs, ha='left', va='center')
    fg.plot([x, x + w], [y + 7.5, y + 7.5], color='black', lw=0.8)
fg.text(2582, 15, '2024/1/30 6:30', fontsize=8.4, ha='right', va='center')
fg.text(2582, 28, '147.491円/ドル', fontsize=8.4, ha='right', va='center')

# chart 1 overlays
fg.add_patch(Rectangle((1795, 43), 312, 52, fc='white', ec='none', zorder=1))
fg.text(1643, 23, '保有銘柄 評価額 BEST 1位-25位', fontsize=9.6, ha='left', va='center')
fg.plot([1643, 1843], [30, 30], color='black', lw=0.8)
fg.text(1957, 15, '2024/1/30 6:30', fontsize=8.4, ha='center', va='center')
fg.text(2065, 15, '147.491円/ドル', fontsize=8.4, ha='center', va='center')
fg.text(1805, 54, 'ポートフォリオを捏ね繰り回して改善した実例は僅少、', fontsize=8.6, color='#2E54A1',
        ha='left', va='center', zorder=2)
fg.text(1805, 79, '時に「我慢」がベストな選択となり得ることもある…。', fontsize=8.6, color='#2E54A1',
        ha='left', va='center', zorder=2)
# chart 2 overlays
fg.add_patch(Rectangle((1870, 280), 240, 34, fc='white', ec='none', zorder=1))
fg.add_patch(Rectangle((1784, 314), 326, 19, fc='white', ec='none', zorder=1))
fg.text(2105, 296, '保有銘柄 評価額 BEST 26位〜49位', fontsize=9.6, ha='right', va='center', zorder=2)
fg.plot([1892, 2105], [303, 303], color='black', lw=0.8, zorder=2)
fg.text(2107, 323, '先ずは生き残れ！儲けるのはそれからでいい', fontsize=11.5, fontweight='bold',
        color='#C00000', ha='right', va='center', zorder=2)
# chart 3 overlays
fg.add_patch(Rectangle((1984, 503), 135, 28, fc='white', ec='none', zorder=1))
fg.text(1713, 514, '2023年-24年における月別配当金・分配金推移（税引き）', fontsize=7.8, color='#7F7F7F',
        ha='left', va='center', zorder=2)
for xs, col, s in [(2002, '#00B050', '23年度'), (2064, '#FFC000', '24年度')]:
    fg.add_patch(Rectangle((xs, 510), 7, 7, fc=col, ec='black', lw=0.6, zorder=2))
    fg.text(xs + 10, 514, s, fontsize=8.2, color='#7F7F7F', ha='left', va='center', zorder=2)

fig.savefig('out.png', dpi=100)
